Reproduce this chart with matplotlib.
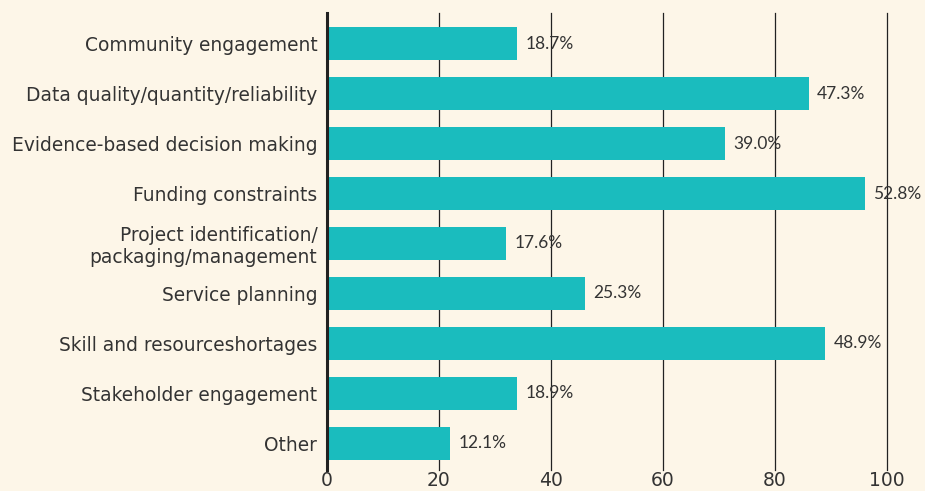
import matplotlib.pyplot as plt

categories = [
    "Community engagement",
    "Data quality/quantity/reliability",
    "Evidence-based decision making",
    "Funding constraints",
    "Project identification/\npackaging/management",
    "Service planning",
    "Skill and resourceshortages",
    "Stakeholder engagement",
    "Other",
]
counts = [34, 86, 71, 96, 32, 46, 89, 34, 22]
pct_labels = ["18.7%", "47.3%", "39.0%", "52.8%", "17.6%", "25.3%", "48.9%", "18.9%", "12.1%"]
xticks = [0, 20, 40, 60, 80, 100]

bg = "#fdf6e8"
bar_color = "#1abcbe"
text_color = "#333333"

plt.rcParams['font.family'] = ['DejaVu Sans']

fig = plt.figure(figsize=(9.25, 4.91), dpi=100, facecolor=bg)
ax = fig.add_axes([327 / 925, 1 - 470 / 491, (887 - 327) / 925, (470 - 13) / 491])
ax.set_facecolor(bg)

y = list(range(len(categories)))
ax.barh(y, counts, height=0.66, color=bar_color, zorder=2)
for yi, c, lab in zip(y, counts, pct_labels):
    ax.text(c + 1.5, yi, lab, va='center', ha='left', fontsize=12.5,
            color=text_color, zorder=3, family=['Lato', 'DejaVu Sans'])

ax.set_xlim(0, 100)
ax.set_ylim(8.54, -0.62)
ax.set_yticks(y)
ax.set_yticklabels(categories, fontsize=13.4, color=text_color,
                   linespacing=1.15, va='center_baseline')
ax.set_xticks(xticks)
ax.set_xticklabels([str(t) for t in xticks], fontsize=13.5, color=text_color)
ax.tick_params(axis='both', length=0)
ax.tick_params(axis='y', pad=7)
ax.tick_params(axis='x', pad=1)

for t in xticks[1:]:
    ax.axvline(t, color='#222222', lw=0.9, zorder=1, clip_on=False)
for s in ['top', 'right', 'bottom']:
    ax.spines[s].set_visible(False)
ax.spines['left'].set_linewidth(2.2)
ax.spines['left'].set_color('#222222')
ax.spines['left'].set_zorder(4)

fig.savefig("out.png", dpi=100, facecolor=bg)
